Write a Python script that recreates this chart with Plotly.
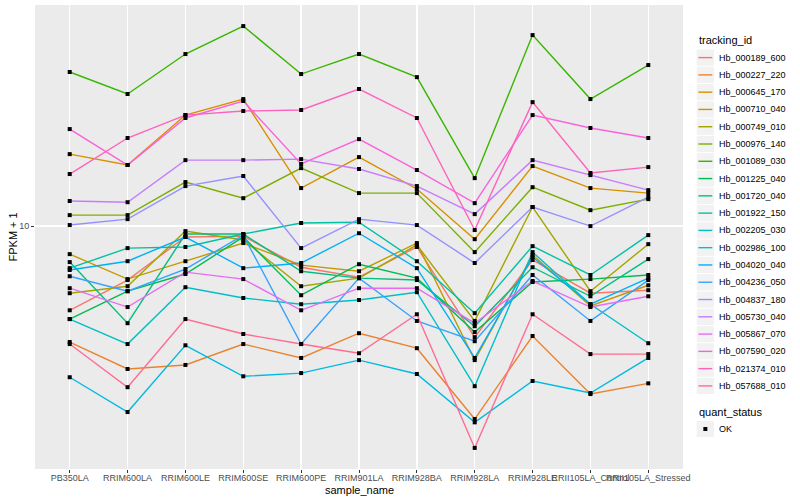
import plotly.graph_objects as go
import numpy as np

samples = ["PB350LA", "RRIM600LA", "RRIM600LE", "RRIM600SE", "RRIM600PE", "RRIM901LA",
           "RRIM928BA", "RRIM928LA", "RRIM928LE", "RRII105LA_Control", "RRII105LA_Stressed"]

tracking_ids = ["Hb_000189_600", "Hb_000227_220", "Hb_000645_170", "Hb_000710_040", "Hb_000749_010",
                "Hb_000976_140", "Hb_001089_030", "Hb_001225_040", "Hb_001720_040", "Hb_001922_150",
                "Hb_002205_030", "Hb_002986_100", "Hb_004020_040", "Hb_004236_050", "Hb_004837_180",
                "Hb_005730_040", "Hb_005867_070", "Hb_007590_020", "Hb_021374_010", "Hb_057688_010"]

colors = ["#F8766D", "#EA8331", "#D89000", "#C09B00", "#A3A500", "#7CAE00", "#39B600", "#00BB4E",
          "#00BF7D", "#00C1A3", "#00BFC4", "#00BAE0", "#00B0F6", "#35A2FF", "#9590FF", "#C77CFF",
          "#E76BF3", "#FA62DB", "#FF62BC", "#FF6C91"]

# FPKM + 1 per sample (order of `samples`)
Hb_000189_600 = [7.24, 8.13, 9.59, 9.62, 8.54, 8.22, 9.23, 6.53, 8.78, 7.73, 7.82]
Hb_000227_220 = [6.41, 5.78, 5.87, 6.36, 6.03, 6.63, 6.26, 4.77, 6.56, 5.25, 5.47]
Hb_000645_170 = [13.18, 12.64, 15.31, 16.28, 11.57, 13.03, 11.53, 9.51, 12.59, 11.57, 11.35]
Hb_000710_040 = [8.98, 8.16, 8.74, 9.37, 8.61, 8.41, 9.37, 5.98, 8.95, 7.36, 7.97]
Hb_000749_010 = [7.73, 7.94, 9.81, 9.48, 7.94, 8.19, 9.30, 6.95, 10.76, 7.79, 9.33]
Hb_000976_140 = [10.43, 10.43, 11.84, 11.13, 12.49, 11.35, 11.35, 9.05, 11.61, 10.63, 11.09]
Hb_001089_030 = [18.06, 16.60, 19.35, 21.54, 17.92, 19.35, 17.71, 12.02, 20.81, 16.28, 18.55]
Hb_001225_040 = [7.00, 7.79, 8.32, 9.59, 7.67, 8.64, 8.19, 6.66, 8.07, 8.16, 8.29]
Hb_001720_040 = [8.71, 6.89, 9.70, 9.70, 8.41, 8.19, 8.13, 6.81, 8.54, 7.64, 8.81]
Hb_001922_150 = [8.51, 9.19, 9.23, 9.70, 10.12, 10.15, 8.74, 7.16, 9.26, 8.29, 9.66]
Hb_002205_030 = [7.00, 6.36, 7.91, 7.59, 7.41, 7.53, 7.76, 5.41, 9.05, 7.41, 6.38]
Hb_002986_100 = [5.60, 4.90, 6.33, 5.62, 5.69, 5.98, 5.67, 4.71, 5.52, 5.27, 6.03]
Hb_004020_040 = [8.45, 8.74, 9.59, 8.51, 8.68, 9.73, 8.51, 6.03, 8.88, 7.41, 8.19]
Hb_004236_050 = [8.25, 7.79, 8.48, 9.66, 6.36, 8.19, 6.95, 6.43, 8.29, 6.95, 8.13]
Hb_004837_180 = [10.04, 10.27, 11.66, 12.12, 9.19, 10.27, 10.04, 8.68, 10.76, 10.00, 11.18]
Hb_005730_040 = [11.01, 10.96, 12.88, 12.88, 12.93, 12.45, 11.66, 10.47, 12.88, 12.16, 11.48]
Hb_005867_070 = [7.88, 7.33, 8.38, 8.16, 7.24, 7.88, 7.88, 6.89, 8.10, 7.33, 7.64]
Hb_007590_020 = [14.51, 12.64, 15.14, 16.16, 12.69, 13.96, 12.40, 10.92, 15.31, 14.57, 14.02]
Hb_021374_010 = [12.21, 14.02, 15.31, 15.55, 15.61, 16.92, 15.14, 9.85, 16.09, 12.26, 12.54]
Hb_057688_010 = [6.36, 5.39, 7.00, 6.61, 6.36, 6.14, 7.13, 4.27, 7.13, 6.12, 6.12]

series = [Hb_000189_600, Hb_000227_220, Hb_000645_170, Hb_000710_040, Hb_000749_010,
          Hb_000976_140, Hb_001089_030, Hb_001225_040, Hb_001720_040, Hb_001922_150,
          Hb_002205_030, Hb_002986_100, Hb_004020_040, Hb_004236_050, Hb_004837_180,
          Hb_005730_040, Hb_005867_070, Hb_007590_020, Hb_021374_010, Hb_057688_010]

quant_status = ["OK"]

FONT = "Liberation Sans, Arial, Helvetica, sans-serif"
W, H = 800, 500
L, R, T, B = 35, 683, 5, 469  # panel edges in pixels

fig = go.Figure()
for name, col, vals in zip(tracking_ids, colors, series):
    fig.add_trace(go.Scatter(x=samples, y=vals, mode="lines", name=name,
                             line=dict(color=col, width=1.4), showlegend=False,
                             hoverinfo="skip"))
for name, vals in zip(tracking_ids, series):
    fig.add_trace(go.Scatter(x=samples, y=vals, mode="markers", name=quant_status[0],
                             marker=dict(symbol="square", size=4, color="black"),
                             showlegend=False, hoverinfo="skip"))

allv = np.log10(np.concatenate([np.array(s) for s in series]))
lo, hi = allv.min(), allv.max()
pad = 0.05 * (hi - lo)

fig.update_layout(
    width=W, height=H,
    margin=dict(l=L, r=W - R, t=T, b=H - B, pad=0),
    paper_bgcolor="white", plot_bgcolor="#EBEBEB",
    font=dict(family=FONT, size=9, color="#4D4D4D"),
    hovermode=False,
    xaxis=dict(type="category", categoryorder="array", categoryarray=samples,
               range=[-0.6, len(samples) - 0.4], showgrid=True, gridcolor="white", gridwidth=1.4,
               zeroline=False, ticks="outside", ticklen=3, tickwidth=1, tickcolor="#333333",
               tickangle=0, ticklabelstandoff=-3,
               tickfont=dict(size=9, color="#4D4D4D", family=FONT), showline=False),
    yaxis=dict(type="log", range=[lo - pad, hi + pad], tickvals=[10], ticktext=["10"],
               showgrid=True, gridcolor="white", gridwidth=1.4, zeroline=False,
               ticks="outside", ticklen=3, tickwidth=1, tickcolor="#333333",
               tickfont=dict(size=9, color="#4D4D4D", family=FONT), showline=False),
    showlegend=False,
)

def px(x):
    return (x - L) / (R - L)

def py(y):
    return (B - y) / (B - T)

shapes = []
annotations = []
# axis titles
annotations.append(dict(text="sample_name", x=px((L + R) / 2), y=py(490), xref="paper", yref="paper",
                        showarrow=False, xanchor="center", yanchor="middle",
                        font=dict(size=11, color="black", family=FONT)))
annotations.append(dict(text="FPKM + 1", x=px(12.5), y=py((T + B) / 2), xref="paper", yref="paper",
                        showarrow=False, xanchor="center", yanchor="middle", textangle=-90,
                        font=dict(size=11, color="black", family=FONT)))

# legend: tracking_id
kx0, kx1 = 696.7, 714.0
step = 17.28
first = 57.6
annotations.append(dict(text="tracking_id", x=px(kx0), y=py(40.5), xref="paper", yref="paper",
                        showarrow=False, xanchor="left", yanchor="middle",
                        font=dict(size=11, color="black", family=FONT)))
for i, (name, col) in enumerate(zip(tracking_ids, colors)):
    yc = first + step * i
    shapes.append(dict(type="rect", xref="paper", yref="paper", x0=px(kx0), x1=px(kx1),
                       y0=py(yc - step / 2 + 0.5), y1=py(yc + step / 2 - 0.5),
                       fillcolor="#F2F2F2", line=dict(width=0), layer="above"))
    shapes.append(dict(type="line", xref="paper", yref="paper", x0=px(kx0 + 1.7), x1=px(kx1 - 1.7),
                       y0=py(yc), y1=py(yc), line=dict(color=col, width=1.4), layer="above"))
    annotations.append(dict(text=name, x=px(716.7), y=py(yc), xref="paper", yref="paper",
                            showarrow=False, xanchor="left", yanchor="middle",
                            font=dict(size=9, color="black", family=FONT)))

# legend: quant_status
annotations.append(dict(text="quant_status", x=px(kx0), y=py(412), xref="paper", yref="paper",
                        showarrow=False, xanchor="left", yanchor="middle",
                        font=dict(size=11, color="black", family=FONT)))
for j, st in enumerate(quant_status):
    yc = 429 + step * j
    shapes.append(dict(type="rect", xref="paper", yref="paper", x0=px(kx0), x1=px(kx1),
                       y0=py(yc - step / 2 + 0.5), y1=py(yc + step / 2 - 0.5),
                       fillcolor="#F2F2F2", line=dict(width=0), layer="above"))
    cx = (kx0 + kx1) / 2
    shapes.append(dict(type="rect", xref="paper", yref="paper", x0=px(cx - 2), x1=px(cx + 2),
                       y0=py(yc - 2), y1=py(yc + 2), fillcolor="black", line=dict(width=0),
                       layer="above"))
    annotations.append(dict(text=st, x=px(716.7), y=py(yc), xref="paper", yref="paper",
                            showarrow=False, xanchor="left", yanchor="middle",
                            font=dict(size=9, color="black", family=FONT)))

fig.update_layout(shapes=shapes, annotations=annotations)
fig.write_html("out.html", config={"displayModeBar": False, "staticPlot": True},
               post_script="document.body.style.margin='0';document.body.style.overflow='hidden';")
